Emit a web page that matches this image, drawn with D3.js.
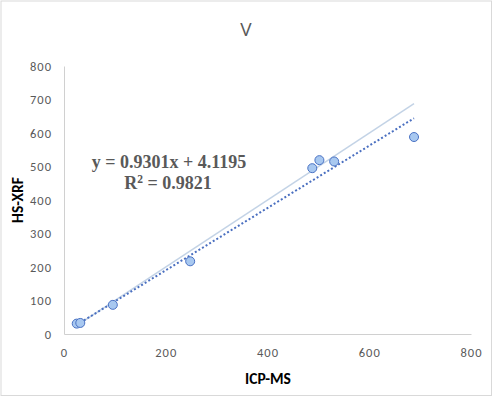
<!DOCTYPE html>
<html lang="en">
<head>
<meta charset="UTF-8">
<title>V</title>
<script src="https://d3js.org/d3.v7.min.js"></script>
<style>
  body { margin: 0; background: #fff; }
  svg text { font-family: Calibri, Carlito, "Liberation Sans", sans-serif; }
</style>
</head>
<body>
<script>
// data
const icpms = [25, 32, 96, 248, 488, 502, 531, 688];
const hsxrf = [31, 33, 87, 217, 495, 519, 515, 588];
const xTicks = [0, 200, 400, 600, 800];
const yTicks = [0, 100, 200, 300, 400, 500, 600, 700, 800];
const slope = 0.9301, intercept = 4.1195;

const width = 493, height = 397;
const margin = {left: 64, right: 22, top: 66, bottom: 63};

const svg = d3.select("body").append("svg")
    .attr("width", width)
    .attr("height", height);

svg.append("rect")
    .attr("x", 1).attr("y", 1)
    .attr("width", width - 2.5).attr("height", height - 2.5)
    .attr("fill", "#fff")
    .attr("stroke", "#d9d9d9");

const x = d3.scaleLinear().domain([0, 800]).range([margin.left, width - margin.right]);
const y = d3.scaleLinear().domain([0, 800]).range([height - margin.bottom, margin.top]);

// axes
const xAxis = svg.append("g")
    .attr("transform", `translate(0,${y(0)})`)
    .call(d3.axisBottom(x).tickValues(xTicks).tickSize(0).tickPadding(14));
const yAxis = svg.append("g")
    .attr("transform", `translate(${x(0)},0)`)
    .call(d3.axisLeft(y).tickValues(yTicks).tickSize(0).tickPadding(12));
[xAxis, yAxis].forEach(g => {
  g.select(".domain").attr("stroke", "#d0d0d0");
  g.selectAll("text")
      .attr("fill", "#595959")
      .style("font-size", "12.5px")
      .style("letter-spacing", "1px");
});

// trend lines
const xmin = d3.min(icpms), xmax = d3.max(icpms);
svg.append("line")
    .attr("x1", x(xmin)).attr("y1", y(xmin))
    .attr("x2", x(xmax)).attr("y2", y(xmax))
    .attr("stroke", "#c3d3e6")
    .attr("stroke-width", 1.5);

svg.append("line")
    .attr("x1", x(xmin)).attr("y1", y(slope * xmin + intercept))
    .attr("x2", x(xmax)).attr("y2", y(slope * xmax + intercept))
    .attr("stroke", "#4a6fc0")
    .attr("stroke-width", 2)
    .attr("stroke-dasharray", "2,2.2");

// points
svg.selectAll("circle")
    .data(icpms.map((d, i) => [d, hsxrf[i]]))
    .enter().append("circle")
    .attr("cx", d => x(d[0]))
    .attr("cy", d => y(d[1]))
    .attr("r", 4.5)
    .attr("fill", "#a8c8f0")
    .attr("stroke", "#4a72c4")
    .attr("stroke-width", 1);

// title and labels
svg.append("text")
    .attr("x", 246).attr("y", 35.5)
    .attr("text-anchor", "middle")
    .attr("fill", "#595959")
    .style("font-family", "'Open Sans', sans-serif")
    .style("font-size", "19px")
    .text("V");

svg.append("text")
    .attr("x", 268).attr("y", 384)
    .attr("text-anchor", "middle")
    .attr("fill", "#000")
    .style("font-size", "15.5px")
    .style("font-weight", "bold")
    .text("ICP-MS");

svg.append("text")
    .attr("transform", "translate(23,200) rotate(-90)")
    .attr("text-anchor", "middle")
    .attr("fill", "#000")
    .style("font-size", "15.5px")
    .style("font-weight", "bold")
    .text("HS-XRF");

const eq = svg.append("g")
    .attr("fill", "#595959")
    .style("font-family", "'Liberation Serif', 'Times New Roman', serif")
    .style("font-size", "18px")
    .style("font-weight", "bold");
eq.append("text")
    .attr("x", 169).attr("y", 167.5)
    .attr("text-anchor", "middle")
    .style("font-family", "inherit")
    .text("y = 0.9301x + 4.1195");
const r2 = eq.append("text")
    .attr("x", 168).attr("y", 188.5)
    .attr("text-anchor", "middle")
    .style("font-family", "inherit");
r2.append("tspan").text("R");
r2.append("tspan").attr("dy", -6).style("font-size", "11.5px").text("2");
r2.append("tspan").attr("dy", 6).text(" = 0.9821");
</script>
</body>
</html>
